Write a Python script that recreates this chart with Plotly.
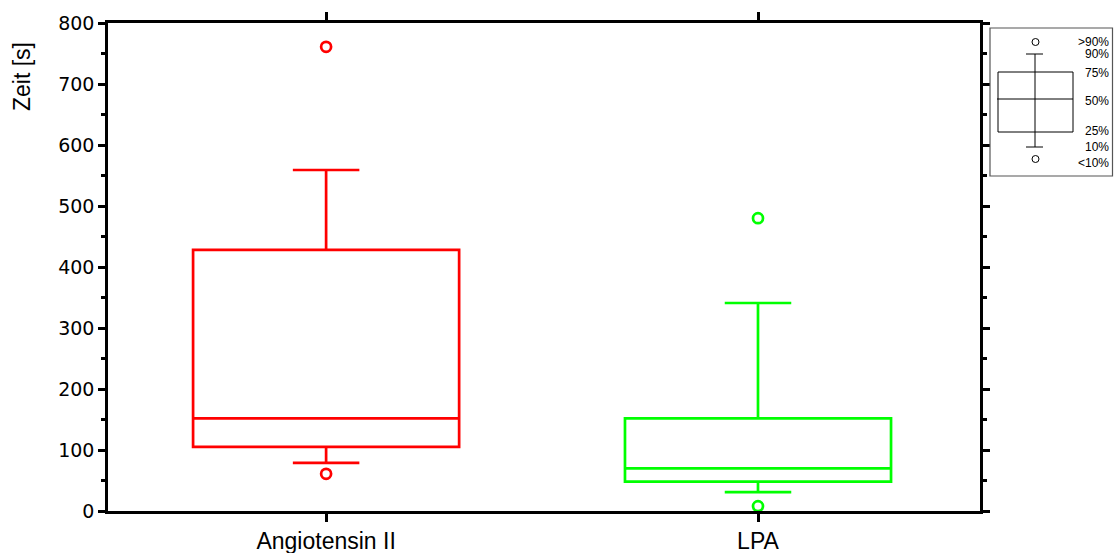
import plotly.graph_objects as go

# ---- data ----
groups = ["Angiotensin II", "LPA"]
q1 = [105, 48]
median = [152, 70]
q3 = [428, 152]
p10 = [79, 31]
p90 = [559, 341]
outliers_high = [761, 480]
outliers_low = [61, 8]
colors = ["#ff0000", "#00ff00"]

W, H = 1114, 553
L, R, T, B = 108, 980, 23, 511  # plot area pixel bounds


def px(x):
    return (x - L) / (R - L)


def py(y):
    return (B - y) / (B - T)


fig = go.Figure()
for i, g in enumerate(groups):
    fig.add_trace(go.Box(
        x=[i], q1=[q1[i]], median=[median[i]], q3=[q3[i]],
        lowerfence=[p10[i]], upperfence=[p90[i]],
        width=0.616, whiskerwidth=0.25,
        line=dict(color=colors[i], width=2.7),
        fillcolor="rgba(0,0,0,0)", boxpoints=False, name=g,
        hoverinfo="skip",
    ))
    fig.add_trace(go.Scatter(
        x=[i, i], y=[outliers_high[i], outliers_low[i]], mode="markers",
        marker=dict(symbol="circle-open", size=10, color=colors[i],
                    line=dict(width=2.7, color=colors[i])),
        hoverinfo="skip",
    ))

# ---- schematic key box (decoration) ----
shapes = []
line_k = dict(color="black", width=1)
shapes.append(dict(type="rect", xref="paper", yref="paper",
                   x0=px(990), x1=px(1112.5), y0=py(176), y1=py(28),
                   line=dict(color="#555555", width=1.2)))
shapes.append(dict(type="rect", xref="paper", yref="paper",
                   x0=px(998), x1=px(1073), y0=py(132), y1=py(72), line=line_k))
shapes.append(dict(type="line", xref="paper", yref="paper",
                   x0=px(997), x1=px(1073), y0=py(99), y1=py(99), line=line_k))
shapes.append(dict(type="line", xref="paper", yref="paper",
                   x0=px(1035), x1=px(1035), y0=py(54), y1=py(147), line=line_k))
for yy in (54, 147):
    shapes.append(dict(type="line", xref="paper", yref="paper",
                       x0=px(1026), x1=px(1043), y0=py(yy), y1=py(yy), line=line_k))
for yy in (42, 159):
    shapes.append(dict(type="circle", xref="paper", yref="paper",
                       x0=px(1032), x1=px(1039), y0=py(yy + 3.5), y1=py(yy - 3.5),
                       line=line_k))

key_labels = [">90%", "90%", "75%", "50%", "25%", "10%", "<10%"]
key_y = [42, 54, 73, 101, 131, 147, 163]
annotations = []
for t, yy in zip(key_labels, key_y):
    annotations.append(dict(text=t, xref="paper", yref="paper", x=px(1110), y=py(yy),
                            xanchor="right", yanchor="middle", showarrow=False,
                            borderpad=0,
                            font=dict(family="Liberation Sans", size=12, color="black")))
annotations.append(dict(text="Zeit [s]", xref="paper", yref="paper", x=px(22), y=py(77),
                        xanchor="center", yanchor="middle", textangle=-90, showarrow=False,
                        font=dict(family="Liberation Sans", size=23, color="black")))

fig.update_layout(
    width=W, height=H,
    margin=dict(l=L, r=W - R, t=T, b=H - B, autoexpand=False),
    plot_bgcolor="white", paper_bgcolor="white",
    showlegend=False,
    shapes=shapes, annotations=annotations,
    xaxis=dict(range=[-0.505, 1.514], tickmode="array", tickvals=[0, 1], ticktext=groups,
               automargin=False,
               showline=True, linecolor="black", linewidth=2.5, mirror="allticks",
               ticks="outside", ticklen=8, tickwidth=2.5, tickcolor="black",
               showgrid=False, zeroline=False,
               tickfont=dict(family="Liberation Sans", size=23, color="black")),
    yaxis=dict(range=[0, 800], dtick=100, tick0=0, automargin=False,
               showline=True, linecolor="black", linewidth=2.5, mirror="allticks",
               ticks="outside", ticklen=7, tickwidth=2.5, tickcolor="black",
               minor=dict(dtick=50, ticks="outside", ticklen=4, tickwidth=2.5,
                          tickcolor="black", showgrid=False),
               showgrid=False, zeroline=False,
               tickfont=dict(family="DejaVu Sans", size=19, color="black")),
)

fig.write_html("out.html")
